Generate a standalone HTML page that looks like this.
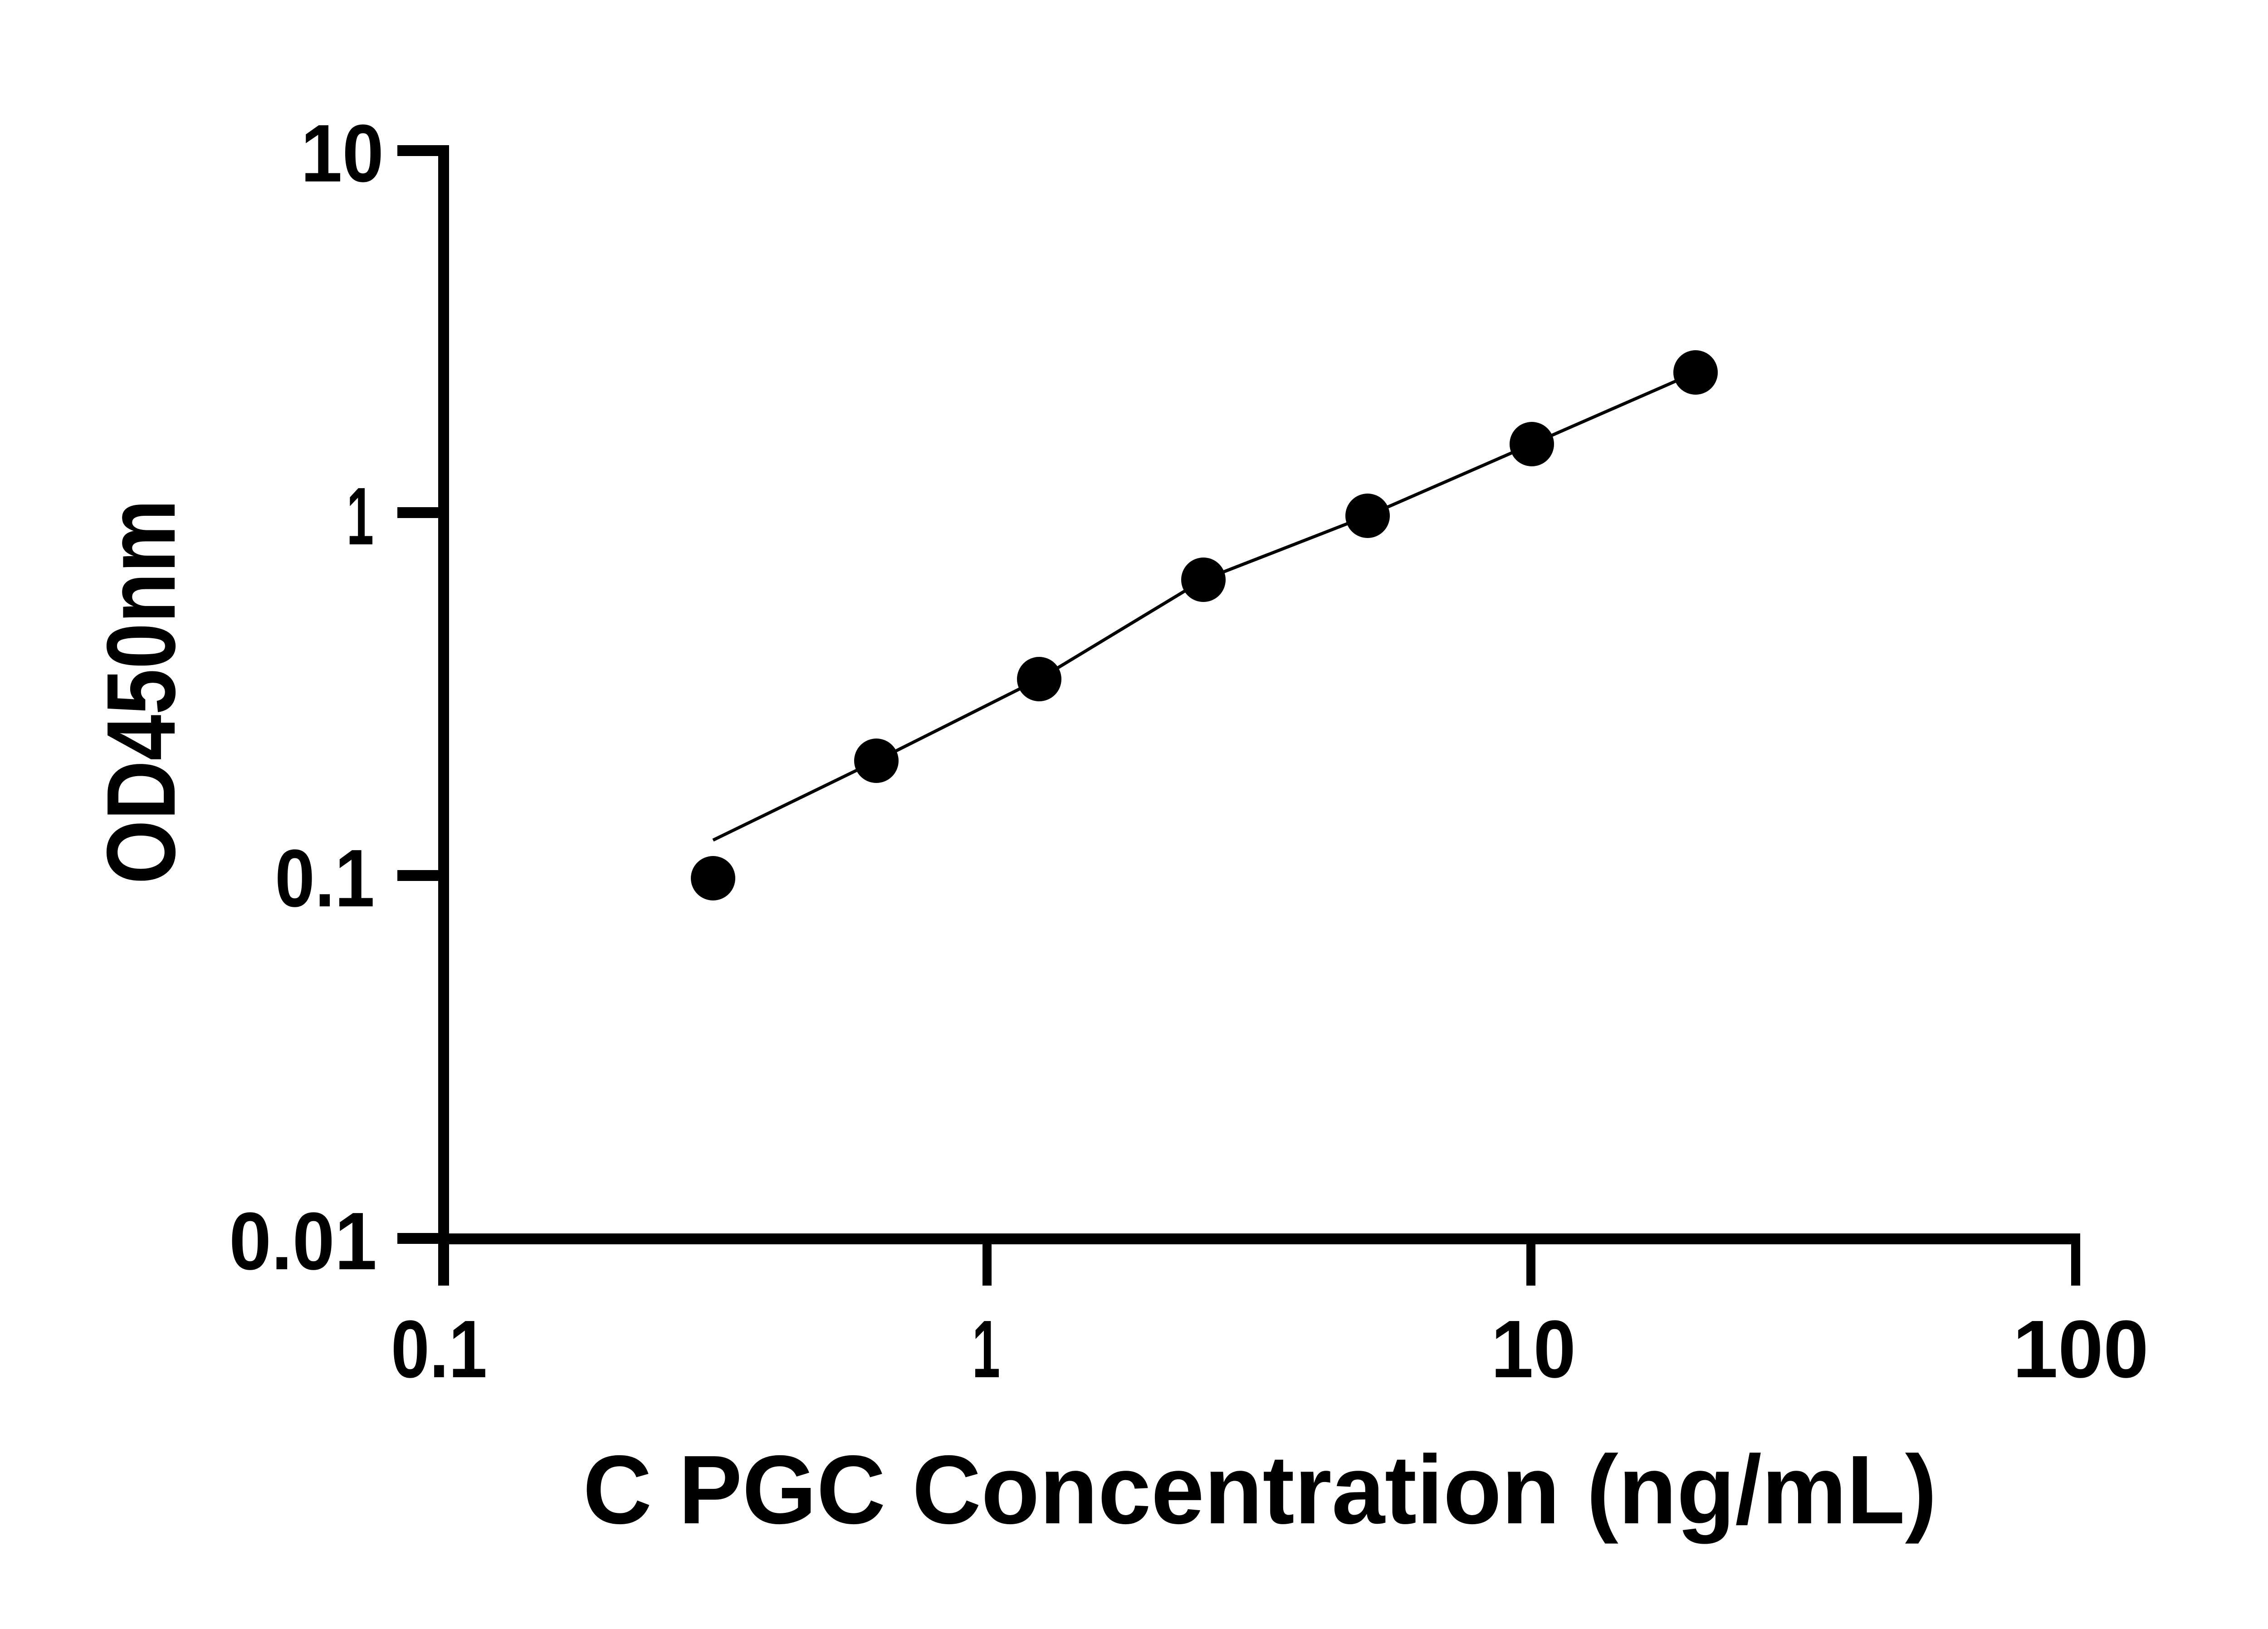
<!DOCTYPE html>
<html><head><meta charset="utf-8"><style>
html,body{margin:0;padding:0;background:#fff;}
svg{display:block;}
text{font-family:"Liberation Sans",sans-serif;font-weight:bold;fill:#000;}
</style></head><body>
<svg width="5138" height="3591" viewBox="0 0 5138 3591" xmlns="http://www.w3.org/2000/svg">
<rect width="5138" height="3591" fill="#fff"/>
<!-- axes -->
<line x1="978" y1="320" x2="978" y2="2834" stroke="#000" stroke-width="24"/>
<line x1="966" y1="2731" x2="4586" y2="2731" stroke="#000" stroke-width="24"/>
<!-- y ticks -->
<g stroke="#000" stroke-width="24">
<line x1="876" y1="332" x2="978" y2="332"/>
<line x1="876" y1="1130" x2="978" y2="1130"/>
<line x1="876" y1="1930" x2="978" y2="1930"/>
<line x1="876" y1="2730" x2="978" y2="2730"/>
</g>
<!-- x ticks -->
<g stroke="#000" stroke-width="20">
<line x1="977" y1="2731" x2="977" y2="2834"/>
<line x1="2176" y1="2731" x2="2176" y2="2834"/>
<line x1="3375" y1="2731" x2="3375" y2="2834"/>
<line x1="4576" y1="2731" x2="4576" y2="2834"/>
</g>
<!-- y tick labels -->
<text x="663" y="400" font-size="180" textLength="183" lengthAdjust="spacingAndGlyphs">10</text>
<text x="764" y="1200" font-size="180" textLength="60" lengthAdjust="spacingAndGlyphs">1</text>
<text x="606" y="1998" font-size="180" textLength="220" lengthAdjust="spacingAndGlyphs">0.1</text>
<text x="505" y="2798" font-size="180" textLength="326" lengthAdjust="spacingAndGlyphs">0.01</text>
<!-- x tick labels -->
<text x="862" y="3036" font-size="180" textLength="212" lengthAdjust="spacingAndGlyphs">0.1</text>
<text x="2143" y="3036" font-size="180" textLength="62" lengthAdjust="spacingAndGlyphs">1</text>
<text x="3287" y="3036" font-size="180" textLength="187" lengthAdjust="spacingAndGlyphs">10</text>
<text x="4437" y="3036" font-size="180" textLength="300" lengthAdjust="spacingAndGlyphs">100</text>
<!-- x title -->
<text x="1285" y="3358" font-size="215" textLength="2985" lengthAdjust="spacingAndGlyphs">C PGC Concentration (ng/mL)</text>
<!-- y title -->
<text transform="translate(385,1949) rotate(-90)" font-size="215" textLength="848" lengthAdjust="spacingAndGlyphs">OD450nm</text>
<!-- curve -->
<polyline fill="none" stroke="#000" stroke-width="7" points="1572,1852 1932,1677 2291,1497 2653,1278 3015,1137 3377,979 3738,821"/>
<!-- points -->
<g fill="#000">
<circle cx="1572" cy="1936" r="49"/>
<circle cx="1932" cy="1677" r="49"/>
<circle cx="2291" cy="1497" r="49"/>
<circle cx="2653" cy="1278" r="49"/>
<circle cx="3015" cy="1137" r="49"/>
<circle cx="3377" cy="979" r="49"/>
<circle cx="3738" cy="821" r="49"/>
</g>
</svg>
</body></html>
